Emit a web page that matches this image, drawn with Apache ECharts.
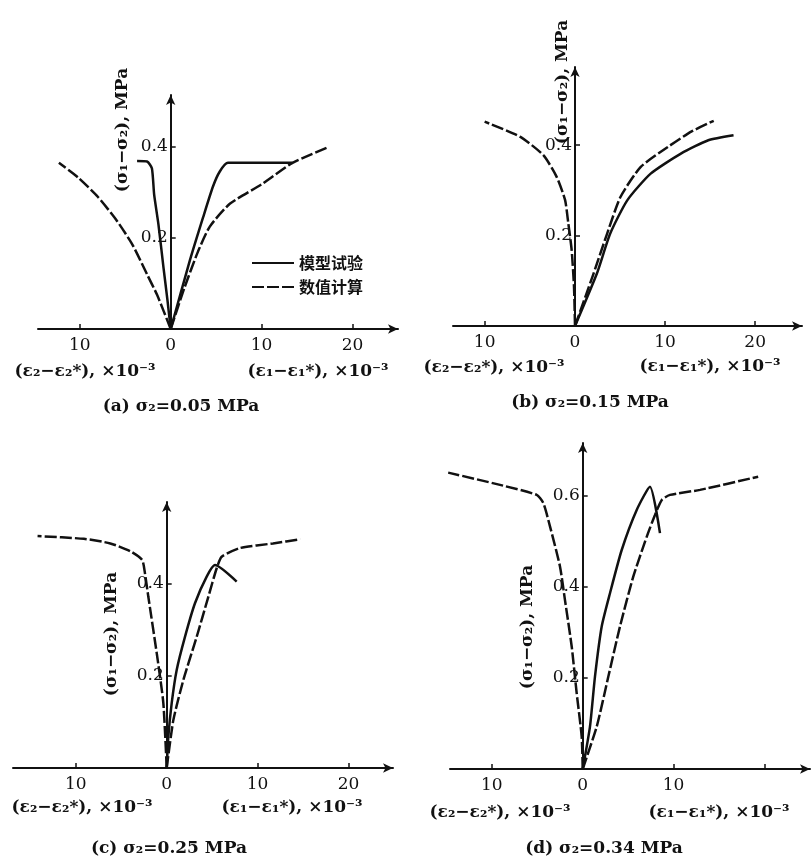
<!DOCTYPE html>
<html>
<head>
<meta charset="utf-8">
<script src="https://cdn.jsdelivr.net/npm/echarts@6/dist/echarts.min.js"></script>
<style>
  html, body { margin: 0; padding: 0; background: #fff; }
  #main { width: 811px; height: 865px; }
</style>
</head>
<body>
<div id="main"></div>
<script>
// 左半轴 (ε2-ε2*)，右半轴 (ε1-ε1*)，单位 ×10^-3；纵轴 (σ1-σ2)，MPa
var xTicksL = [10];
var xLabelsL = [10];
var xTicksR = [10, 20];
var xLabelsR = [0, 10, 20];
var xLabelsRD = [0, 10];
var yTicks = [0.2, 0.4];
var yTicksD = [0.2, 0.4, 0.6];

// (a) σ2 = 0.05 MPa
var aTestL = [[0, 0], [0.36, 0.064], [0.8, 0.136], [1.35, 0.23], [1.82, 0.295], [2.07, 0.353], [2.6, 0.368], [3.7, 0.369]];
var aCalcL = [[0, 0], [1.5, 0.075], [2.6, 0.12], [4.2, 0.185], [6, 0.24], [8, 0.29], [10.2, 0.333], [12.3, 0.365]];
var aTestR = [[0, 0], [2.1, 0.15], [3.56, 0.245], [4.65, 0.313], [5.4, 0.346], [6.3, 0.365], [13.4, 0.365]];
var aCalcR = [[0, 0], [1.5, 0.09], [3.0, 0.17], [4.3, 0.225], [6.5, 0.275], [10, 0.318], [13.4, 0.365], [17.4, 0.4]];

// (b) σ2 = 0.15 MPa
var bCalcL = [[0, 0], [0.11, 0.087], [0.37, 0.168], [0.74, 0.227], [1.1, 0.279], [2.03, 0.33], [3.5, 0.378], [6.1, 0.419], [10, 0.452]];
var bTestR = [[0, 0], [2.43, 0.116], [3.9, 0.204], [5.8, 0.278], [8.4, 0.337], [11.8, 0.382], [14.8, 0.411], [17.6, 0.422]];
var bCalcR = [[0, 0], [2.06, 0.116], [3.56, 0.204], [5.06, 0.286], [7.3, 0.352], [10.3, 0.396], [12.9, 0.43], [15.4, 0.454]];

// (c) σ2 = 0.25 MPa
var cCalcL = [[0, 0], [0.37, 0.141], [1.1, 0.25], [2.02, 0.372], [2.39, 0.423], [2.7, 0.452], [4.0, 0.471], [6.2, 0.488], [9.1, 0.498], [14.2, 0.504]];
var cTestR = [[0, 0], [0.18, 0.068], [0.55, 0.141], [1.1, 0.213], [2.01, 0.285], [3.11, 0.358], [4.4, 0.416], [5.31, 0.441], [7.7, 0.405]];
var cCalcR = [[0, 0], [0.73, 0.104], [1.83, 0.191], [3.3, 0.285], [4.58, 0.372], [5.5, 0.434], [6.05, 0.459], [8.06, 0.478], [11.7, 0.488], [14.7, 0.497]];

// (d) σ2 = 0.34 MPa
var dCalcL = [[0, 0], [0.11, 0.071], [0.66, 0.166], [1.21, 0.269], [1.95, 0.371], [2.5, 0.445], [3.6, 0.533], [4.33, 0.584], [5.06, 0.602], [9.1, 0.624], [14.8, 0.651]];
var dTestR = [[0, 0], [0.8, 0.093], [1.35, 0.203], [2.09, 0.313], [3.0, 0.386], [4.29, 0.481], [5.94, 0.569], [7.4, 0.62], [8.5, 0.518]];
var dCalcR = [[0, 0], [1.54, 0.093], [2.82, 0.203], [4.1, 0.313], [5.57, 0.423], [7.04, 0.51], [7.95, 0.558], [8.7, 0.591], [9.6, 0.602], [12.9, 0.613], [19.3, 0.642]];

var serif = '"DejaVu Serif", "Liberation Serif", serif';
var cjk = '"Noto Sans CJK SC", sans-serif';
var ink = '#111';

// 每个小图拆成左右两个 grid，纵轴落在右 grid 的左边缘
var panels = [
  { left: 38, origin: 170.7, right: 398, top: 95, bottom: 329, xMaxL: 14.6, xMaxR: 25, yMax: 0.514,
    labelsR: xLabelsR, yTicks: yTicks, testL: [aTestL], calcL: [aCalcL], testR: [aTestR], calcR: [aCalcR] },
  { left: 453, origin: 575, right: 802, top: 67, bottom: 326, xMaxL: 13.5, xMaxR: 25.2, yMax: 0.573,
    labelsR: xLabelsR, yTicks: yTicks, testL: [], calcL: [bCalcL], testR: [bTestR], calcR: [bCalcR] },
  { left: 13, origin: 166.7, right: 393, top: 502, bottom: 768, xMaxL: 16.9, xMaxR: 24.9, yMax: 0.578,
    labelsR: xLabelsR, yTicks: yTicks, testL: [], calcL: [cCalcL], testR: [cTestR], calcR: [cCalcR] },
  { left: 450, origin: 582.7, right: 810, top: 443, bottom: 769, xMaxL: 14.6, xMaxR: 25, yMax: 0.716,
    labelsR: xLabelsRD, yTicks: yTicksD, testL: [], calcL: [dCalcL], testR: [dTestR], calcR: [dCalcR] }
];

var grids = [], xAxes = [], yAxes = [], series = [];

function addSeries(list, name, idx, dash) {
  list.forEach(function (d) {
    series.push({
      name: name, type: 'line', xAxisIndex: idx, yAxisIndex: idx, data: d,
      symbol: 'none', smooth: 0.2, color: ink, itemStyle: { color: ink },
      lineStyle: { color: ink, width: 2.5, type: dash ? [12, 3] : 'solid' }
    });
  });
}

panels.forEach(function (p) {
  var h = p.bottom - p.top;
  // 左半
  var li = grids.length;
  grids.push({ left: p.left, top: p.top, width: p.origin - p.left, height: h });
  xAxes.push({
    type: 'value', gridIndex: li, min: 0, max: p.xMaxL, inverse: true,
    axisLine: { onZero: false, lineStyle: { color: ink, width: 2 } },
    axisTick: { inside: true, length: 5, lineStyle: { color: ink, width: 1.5 }, customValues: xTicksL },
    axisLabel: { customValues: xLabelsL, color: ink, fontFamily: serif, fontSize: 17, margin: 8 },
    splitLine: { show: false }
  });
  yAxes.push({ type: 'value', gridIndex: li, min: 0, max: p.yMax, show: false });
  addSeries(p.testL, '模型试验', li, false);
  addSeries(p.calcL, '数值计算', li, true);

  // 右半
  var ri = grids.length;
  grids.push({ left: p.origin, top: p.top, width: p.right - p.origin, height: h });
  xAxes.push({
    type: 'value', gridIndex: ri, min: 0, max: p.xMaxR,
    axisLine: { onZero: false, lineStyle: { color: ink, width: 2 }, symbol: ['none', 'arrow'], symbolSize: [7, 10] },
    axisTick: { inside: true, length: 5, lineStyle: { color: ink, width: 1.5 }, customValues: xTicksR },
    axisLabel: { customValues: p.labelsR, color: ink, fontFamily: serif, fontSize: 17, margin: 8 },
    splitLine: { show: false }
  });
  yAxes.push({
    type: 'value', gridIndex: ri, min: 0, max: p.yMax,
    axisLine: { onZero: false, lineStyle: { color: ink, width: 2 }, symbol: ['none', 'arrow'], symbolSize: [7, 10] },
    axisTick: { inside: true, length: 5, lineStyle: { color: ink, width: 1.5 }, customValues: p.yTicks },
    axisLabel: { customValues: p.yTicks, color: ink, fontFamily: serif, fontSize: 17, margin: 3,
      formatter: function (v) { return v.toFixed(1); } },
    splitLine: { show: false }
  });
  addSeries(p.testR, '模型试验', ri, false);
  addSeries(p.calcR, '数值计算', ri, true);
});

function txt(x, y, text, opts) {
  opts = opts || {};
  return {
    type: 'text', x: x, y: y, rotation: opts.rot || 0,
    style: { text: text, fill: ink, font: (opts.weight || 'bold') + ' ' + (opts.size || 17) + 'px ' + serif,
      textAlign: 'center', textVerticalAlign: 'middle' }
  };
}

var yName = '(σ₁−σ₂), MPa';
var xNameL = '(ε₂−ε₂*), ×10⁻³';
var xNameR = '(ε₁−ε₁*), ×10⁻³';

var graphics = [
  txt(123, 130, yName, { rot: Math.PI / 2 }),
  txt(563, 82, yName, { rot: Math.PI / 2 }),
  txt(112, 634, yName, { rot: Math.PI / 2 }),
  txt(528, 627, yName, { rot: Math.PI / 2 }),
  txt(85, 372, xNameL), txt(318, 372, xNameR),
  txt(494, 368, xNameL), txt(710, 367, xNameR),
  txt(82, 808, xNameL), txt(292, 808, xNameR),
  txt(500, 813, xNameL), txt(719, 813, xNameR),
  txt(181, 407, '(a) σ₂=0.05 MPa'),
  txt(590, 403, '(b) σ₂=0.15 MPa'),
  txt(169, 849, '(c) σ₂=0.25 MPa'),
  txt(604, 849, '(d) σ₂=0.34 MPa')
];

var myChart = echarts.init(document.getElementById('main'));
myChart.setOption({
  animation: false,
  backgroundColor: '#fff',
  legend: {
    data: ['模型试验', '数值计算'], orient: 'vertical', left: 246, top: 250,
    itemWidth: 42, itemHeight: 12, itemGap: 8,
    itemStyle: { opacity: 0 },
    textStyle: { color: ink, fontFamily: cjk, fontSize: 16, fontWeight: 'bold' }
  },
  grid: grids,
  xAxis: xAxes,
  yAxis: yAxes,
  series: series,
  graphic: graphics
});
window.addEventListener('resize', function () { myChart.resize(); });
</script>
</body>
</html>
